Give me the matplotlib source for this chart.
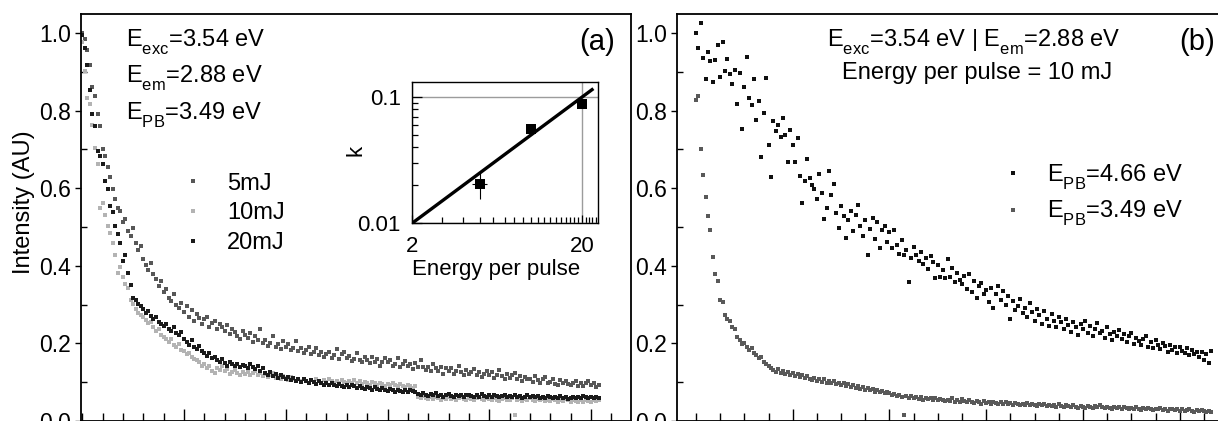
import matplotlib
matplotlib.use('Agg')
import matplotlib.pyplot as plt
import matplotlib._mathtext as _mt
import numpy as np
from matplotlib.ticker import FixedLocator, MultipleLocator, NullFormatter

plt.rcParams['font.family'] = ['Liberation Sans', 'DejaVu Sans']
plt.rcParams['mathtext.fontset'] = 'custom'
plt.rcParams['mathtext.rm'] = 'Liberation Sans'
plt.rcParams['mathtext.it'] = 'Liberation Sans:italic'
plt.rcParams['mathtext.default'] = 'regular'
# lower the subscripts a bit (Origin-style)
_mt.FontConstantsBase.subdrop = 0.62
_mt.FontConstantsBase.sub1 = 0.62

# ---------------- data ----------------
dt = 0.025  # time step of the transients (arb. units)

mj5 = [
    1.000, 0.985, 0.955, 0.918, 0.862, 0.838, 0.792, 0.760,
    0.702, 0.684, 0.655, 0.628, 0.598, 0.572, 0.548, 0.541,
    0.512, 0.521, 0.489, 0.478, 0.497, 0.458, 0.441, 0.452,
    0.418, 0.402, 0.388, 0.407, 0.378, 0.365, 0.349, 0.361,
    0.332, 0.341, 0.318, 0.309, 0.327, 0.298, 0.291, 0.305,
    0.281, 0.297, 0.268, 0.286, 0.259, 0.276, 0.265, 0.251,
    0.262, 0.268, 0.243, 0.252, 0.258, 0.236, 0.249, 0.241,
    0.232, 0.247, 0.224, 0.238, 0.229, 0.219, 0.212, 0.231,
    0.221, 0.214, 0.228, 0.203, 0.219, 0.208, 0.238, 0.201,
    0.209, 0.194, 0.202, 0.218, 0.191, 0.199, 0.186, 0.207,
    0.192, 0.198, 0.183, 0.189, 0.205, 0.181, 0.188, 0.176,
    0.184, 0.191, 0.172, 0.179, 0.188, 0.171, 0.177, 0.166,
    0.173, 0.179, 0.163, 0.169, 0.186, 0.161, 0.172, 0.178,
    0.162, 0.168, 0.154, 0.161, 0.176, 0.158, 0.151, 0.166,
    0.158, 0.149, 0.165, 0.152, 0.159, 0.143, 0.151, 0.162,
    0.151, 0.157, 0.142, 0.148, 0.163, 0.139, 0.147, 0.155,
    0.141, 0.148, 0.134, 0.149, 0.138, 0.156, 0.139, 0.131,
    0.138, 0.129, 0.146, 0.136, 0.128, 0.139, 0.122, 0.137,
    0.129, 0.136, 0.121, 0.128, 0.142, 0.127, 0.119, 0.131,
    0.121, 0.127, 0.135, 0.118, 0.126, 0.113, 0.121, 0.129,
    0.119, 0.126, 0.111, 0.118, 0.132, 0.117, 0.109, 0.121,
    0.112, 0.118, 0.124, 0.108, 0.116, 0.103, 0.114, 0.109,
    0.107, 0.101, 0.115, 0.106, 0.099, 0.109, 0.113, 0.098,
    0.101, 0.107, 0.096, 0.092, 0.105, 0.098, 0.104, 0.095,
    0.093, 0.099, 0.104, 0.089, 0.097, 0.091, 0.098, 0.102,
    0.092, 0.097, 0.088, 0.094,
]

mj10 = [
    0.978, 0.903, 0.832, 0.818, 0.762, 0.704, 0.662, 0.548,
    0.562, 0.531, 0.502, 0.484, 0.458, 0.428, 0.382, 0.398,
    0.371, 0.352, 0.342, 0.312, 0.301, 0.289, 0.278, 0.272,
    0.268, 0.261, 0.252, 0.256, 0.241, 0.232, 0.238, 0.222,
    0.216, 0.211, 0.203, 0.212, 0.196, 0.191, 0.199, 0.184,
    0.181, 0.172, 0.176, 0.165, 0.161, 0.156, 0.152, 0.143,
    0.147, 0.136, 0.141, 0.129, 0.124, 0.136, 0.131, 0.141,
    0.128, 0.133, 0.122, 0.127, 0.131, 0.124, 0.119, 0.126,
    0.121, 0.127, 0.118, 0.124, 0.129, 0.119, 0.123, 0.116,
    0.121, 0.114, 0.119, 0.124, 0.112, 0.117, 0.109, 0.115,
    0.112, 0.106, 0.113, 0.108, 0.103, 0.109, 0.102, 0.107,
    0.104, 0.099, 0.106, 0.101, 0.108, 0.103, 0.098, 0.105,
    0.101, 0.107, 0.102, 0.098, 0.104, 0.099, 0.106, 0.101,
    0.097, 0.103, 0.099, 0.105, 0.098, 0.102, 0.096, 0.101,
    0.098, 0.094, 0.101, 0.097, 0.093, 0.099, 0.095, 0.091,
    0.096, 0.092, 0.098, 0.094, 0.089, 0.095, 0.091, 0.087,
    0.093, 0.089, 0.085, 0.091, 0.062, 0.058, 0.064, 0.059,
    0.056, 0.061, 0.057, 0.063, 0.058, 0.055, 0.060, 0.057,
    0.061, 0.056, 0.059, 0.054, 0.058, 0.062, 0.057, 0.055,
    0.059, 0.056, 0.053, 0.058, 0.061, 0.056, 0.054, 0.059,
    0.057, 0.054, 0.059, 0.055, 0.052, 0.057, 0.060, 0.055,
    0.053, 0.058, 0.015, 0.054, 0.057, 0.052, 0.056, 0.053,
    0.058, 0.054, 0.051, 0.056, 0.053, 0.057, 0.052, 0.055,
    0.051, 0.056, 0.053, 0.049, 0.054, 0.052, 0.057, 0.053,
    0.050, 0.054, 0.051, 0.048, 0.053, 0.050, 0.055, 0.052,
    0.049, 0.053, 0.051, 0.054,
]

mj20 = [
    0.995, 0.962, 0.918, 0.853, 0.792, 0.761, 0.695, 0.684,
    0.662, 0.618, 0.597, 0.553, 0.538, 0.502, 0.482, 0.458,
    0.412, 0.428, 0.382, 0.351, 0.318, 0.312, 0.301, 0.296,
    0.288, 0.279, 0.283, 0.271, 0.262, 0.268, 0.255, 0.249,
    0.244, 0.251, 0.238, 0.232, 0.241, 0.226, 0.221, 0.229,
    0.212, 0.204, 0.197, 0.208, 0.191, 0.186, 0.193, 0.181,
    0.176, 0.168, 0.174, 0.162, 0.166, 0.158, 0.153, 0.161,
    0.149, 0.143, 0.152, 0.146, 0.141, 0.147, 0.139, 0.144,
    0.142, 0.137, 0.146, 0.139, 0.134, 0.141, 0.128, 0.136,
    0.124, 0.119, 0.127, 0.116, 0.121, 0.112, 0.118, 0.114,
    0.109, 0.113, 0.106, 0.111, 0.104, 0.108, 0.101, 0.107,
    0.103, 0.098, 0.105, 0.101, 0.096, 0.102, 0.099, 0.094,
    0.097, 0.092, 0.099, 0.094, 0.089, 0.096, 0.091, 0.088,
    0.092, 0.087, 0.094, 0.089, 0.085, 0.091, 0.086, 0.083,
    0.088, 0.084, 0.081, 0.087, 0.083, 0.079, 0.085, 0.081,
    0.078, 0.083, 0.079, 0.076, 0.081, 0.077, 0.074, 0.079,
    0.076, 0.081, 0.077, 0.074, 0.069, 0.066, 0.071, 0.067,
    0.064, 0.069, 0.066, 0.071, 0.065, 0.068, 0.063, 0.067,
    0.069, 0.065, 0.062, 0.068, 0.064, 0.067, 0.063, 0.066,
    0.068, 0.064, 0.061, 0.066, 0.063, 0.069, 0.065, 0.062,
    0.066, 0.063, 0.067, 0.064, 0.061, 0.065, 0.068, 0.063,
    0.064, 0.061, 0.066, 0.062, 0.065, 0.059, 0.063, 0.066,
    0.062, 0.065, 0.061, 0.064, 0.058, 0.063, 0.060, 0.065,
    0.061, 0.058, 0.063, 0.060, 0.064, 0.059, 0.062, 0.057,
    0.060, 0.063, 0.058, 0.062, 0.059, 0.064, 0.061, 0.058,
    0.062, 0.059, 0.063, 0.060,
]

pb466 = [
    1.000, 0.962, 1.025, 0.935, 0.882, 0.951, 0.928, 0.874,
    0.930, 0.968, 0.887, 0.978, 0.902, 0.934, 0.895, 0.869,
    0.905, 0.818, 0.898, 0.752, 0.862, 0.938, 0.832, 0.815,
    0.882, 0.776, 0.825, 0.681, 0.793, 0.885, 0.712, 0.628,
    0.774, 0.748, 0.762, 0.731, 0.782, 0.738, 0.668, 0.751,
    0.712, 0.667, 0.729, 0.632, 0.562, 0.618, 0.674, 0.626,
    0.609, 0.598, 0.571, 0.636, 0.587, 0.521, 0.548, 0.644,
    0.582, 0.612, 0.537, 0.498, 0.553, 0.528, 0.471, 0.519,
    0.542, 0.489, 0.532, 0.558, 0.503, 0.476, 0.518, 0.429,
    0.494, 0.523, 0.468, 0.512, 0.446, 0.491, 0.502, 0.462,
    0.488, 0.447, 0.492, 0.454, 0.431, 0.467, 0.428, 0.442,
    0.358, 0.421, 0.448, 0.427, 0.412, 0.436, 0.404, 0.419,
    0.392, 0.426, 0.411, 0.368, 0.402, 0.371, 0.389, 0.368,
    0.418, 0.372, 0.395, 0.358, 0.381, 0.364, 0.352, 0.374,
    0.341, 0.378, 0.332, 0.361, 0.318, 0.349, 0.356, 0.327,
    0.338, 0.306, 0.342, 0.291, 0.328, 0.347, 0.312, 0.334,
    0.298, 0.321, 0.262, 0.309, 0.286, 0.297, 0.314, 0.279,
    0.292, 0.268, 0.304, 0.281, 0.259, 0.289, 0.272, 0.251,
    0.284, 0.263, 0.245, 0.276, 0.258, 0.241, 0.267, 0.254,
    0.238, 0.262, 0.247, 0.229, 0.256, 0.243, 0.221, 0.251,
    0.236, 0.259, 0.228, 0.246, 0.219, 0.238, 0.252, 0.226,
    0.232, 0.214, 0.241, 0.223, 0.209, 0.229, 0.218, 0.234,
    0.211, 0.224, 0.203, 0.219, 0.227, 0.198, 0.215, 0.206,
    0.196, 0.212, 0.218, 0.191, 0.204, 0.188, 0.209, 0.197,
    0.186, 0.201, 0.193, 0.179, 0.196, 0.184, 0.191, 0.176,
    0.192, 0.181, 0.174, 0.188, 0.169, 0.183, 0.172, 0.178,
    0.166, 0.179, 0.158, 0.172, 0.149, 0.181,
]

pb349 = [
    0.828, 0.838, 0.702, 0.634, 0.578, 0.528, 0.492, 0.423,
    0.378, 0.362, 0.312, 0.306, 0.272, 0.262, 0.258, 0.241,
    0.238, 0.216, 0.208, 0.198, 0.201, 0.192, 0.184, 0.188,
    0.176, 0.171, 0.163, 0.166, 0.152, 0.148, 0.141, 0.136,
    0.131, 0.127, 0.134, 0.124, 0.129, 0.121, 0.126, 0.119,
    0.123, 0.116, 0.121, 0.113, 0.118, 0.112, 0.117, 0.109,
    0.106, 0.112, 0.104, 0.109, 0.101, 0.107, 0.099, 0.104,
    0.097, 0.102, 0.095, 0.099, 0.093, 0.098, 0.091, 0.095,
    0.088, 0.093, 0.086, 0.090, 0.083, 0.088, 0.081, 0.085,
    0.079, 0.083, 0.076, 0.081, 0.074, 0.078, 0.071, 0.076,
    0.072, 0.066, 0.070, 0.064, 0.068, 0.061, 0.015, 0.065,
    0.060, 0.064, 0.058, 0.062, 0.057, 0.061, 0.055, 0.059,
    0.056, 0.060, 0.054, 0.058, 0.053, 0.057, 0.055, 0.051,
    0.055, 0.052, 0.058, 0.050, 0.054, 0.049, 0.056, 0.052,
    0.048, 0.053, 0.050, 0.046, 0.052, 0.049, 0.045, 0.051,
    0.047, 0.050, 0.045, 0.049, 0.046, 0.043, 0.048, 0.045,
    0.049, 0.044, 0.047, 0.042, 0.046, 0.043, 0.041, 0.045,
    0.042, 0.046, 0.040, 0.044, 0.041, 0.038, 0.043, 0.040,
    0.044, 0.039, 0.042, 0.038, 0.041, 0.037, 0.043, 0.039,
    0.036, 0.041, 0.038, 0.035, 0.040, 0.037, 0.034, 0.039,
    0.037, 0.034, 0.039, 0.036, 0.033, 0.038, 0.035, 0.040,
    0.036, 0.033, 0.037, 0.034, 0.031, 0.036, 0.033, 0.035,
    0.032, 0.036, 0.033, 0.030, 0.034, 0.031, 0.035, 0.032,
    0.029, 0.033, 0.030, 0.034, 0.031, 0.028, 0.032, 0.030,
    0.033, 0.029, 0.031, 0.027, 0.030, 0.032, 0.028, 0.031,
    0.027, 0.030, 0.026, 0.029, 0.031, 0.027, 0.024, 0.028,
    0.025, 0.029, 0.026, 0.023, 0.027, 0.024,
]

# inset: rate constant k vs energy per pulse
energy = [5, 10, 20]
k_vals = [0.0206, 0.0562, 0.0887]
k_err_lo = [0.0049, 0.003, 0.0067]
k_err_hi = [0.0049, 0.003, 0.0063]
e_err = [0.5, 0.5, 0.5]
fit_energy = [2.0, 23.3]
fit_k = [0.010, 0.1165]

left_labels = ['5mJ', '10mJ', '20mJ']
right_labels = ['E$_{PB}$=4.66 eV', 'E$_{PB}$=3.49 eV']
yticks = [0.0, 0.2, 0.4, 0.6, 0.8, 1.0]
ytick_labels = ['0.0', '0.2', '0.4', '0.6', '0.8', '1.0']

# ---------------- figure ----------------
FW, FH = 1218, 421
fig = plt.figure(figsize=(FW / 100, FH / 100), dpi=100)


def box(l, t, w, h):
    return [l / FW, 1 - (t + h) / FH, w / FW, h / FH]


axA = fig.add_axes(box(80.5, 14, 550, 407))
axB = fig.add_axes(box(677, 14, 548.6, 407))
axI = fig.add_axes(box(412, 82, 186, 141.3))

FS = 17
ms = 2.6
h5, = axA.plot(np.arange(len(mj5)) * dt, mj5, ls='none', marker='s', ms=ms, mew=0, color='#575757')
h10, = axA.plot(np.arange(len(mj10)) * dt, mj10, ls='none', marker='s', ms=ms, mew=0, color='#b3b3b3')
h20, = axA.plot(np.arange(len(mj20)) * dt, mj20, ls='none', marker='s', ms=ms, mew=0, color='#1a1a1a')

hb1, = axB.plot(np.arange(len(pb466)) * dt, pb466, ls='none', marker='s', ms=ms, mew=0, color='#101010')
hb2, = axB.plot(np.arange(len(pb349)) * dt, pb349, ls='none', marker='s', ms=ms, mew=0, color='#595959')

axA.set_xlim(-0.0172, 5.388)
axB.set_xlim(-0.196, 5.474)

for ax in (axA, axB):
    ax.set_ylim(0.0, 1.049)
    ax.yaxis.set_major_locator(FixedLocator(yticks))
    ax.set_yticklabels(ytick_labels)
    ax.yaxis.set_minor_locator(MultipleLocator(0.1))
    ax.xaxis.set_major_locator(FixedLocator([1, 2, 3, 4, 5]))
    ax.xaxis.set_minor_locator(MultipleLocator(0.2) if ax is axA else MultipleLocator(0.25))
    ax.tick_params(axis='x', which='major', direction='in', length=9, width=1.0,
                   labelbottom=False, top=False)
    ax.tick_params(axis='x', which='minor', direction='in', length=6, width=1.0, top=False)
    ax.tick_params(axis='y', which='major', direction='out', length=4, width=1.0,
                   labelsize=16.5, pad=3, right=False)
    ax.tick_params(axis='y', which='minor', direction='in', length=4, width=1.0, right=False)
    for s in ax.spines.values():
        s.set_linewidth(1.3)

axA.set_ylabel('Intensity (AU)', fontsize=FS)
axA.yaxis.set_label_coords(-0.0827, 0.537)

# texts panel (a)
axA.text(0.0827, 0.919, 'E$_{exc}$=3.54 eV', transform=axA.transAxes, fontsize=FS, va='baseline')
axA.text(0.0827, 0.8305, 'E$_{em}$=2.88 eV', transform=axA.transAxes, fontsize=FS, va='baseline')
axA.text(0.0827, 0.7396, 'E$_{PB}$=3.49 eV', transform=axA.transAxes, fontsize=FS, va='baseline')
axA.text(0.9718, 0.9115, '(a)', transform=axA.transAxes, fontsize=21, ha='right', va='baseline')

axA.legend([h5, h10, h20], left_labels, loc='upper left', bbox_to_anchor=(0.1831, 0.6103),
           frameon=False, fontsize=FS, handlelength=1.0, handletextpad=0.94,
           labelspacing=0.33, borderpad=0, borderaxespad=0, numpoints=1, markerscale=1.0)

# texts panel (b)
axB.text(0.5405, 0.919, 'E$_{exc}$=3.54 eV | E$_{em}$=2.88 eV', transform=axB.transAxes,
         fontsize=FS, ha='center', va='baseline')
axB.text(0.547, 0.8396, 'Energy per pulse = 10 mJ', transform=axB.transAxes,
         fontsize=FS, ha='center', va='baseline')
axB.text(0.9807, 0.9115, '(b)', transform=axB.transAxes, fontsize=21, ha='right', va='baseline')
axB.legend([hb1, hb2], right_labels, loc='upper left', bbox_to_anchor=(0.591, 0.6346),
           frameon=False, fontsize=FS, handlelength=1.0, handletextpad=0.94,
           labelspacing=0.31, borderpad=0, borderaxespad=0, numpoints=1, markerscale=1.0)

# ---------------- inset ----------------
FI = 16
axI.set_xscale('log')
axI.set_yscale('log')
axI.set_axisbelow(True)
axI.grid(True, which='major', color='#9c9c9c', lw=1.0)
axI.plot(fit_energy, fit_k, color='black', lw=2.4, solid_capstyle='butt', zorder=4)
axI.errorbar(energy, k_vals, yerr=[k_err_lo, k_err_hi], xerr=e_err, fmt='s', color='black',
             ms=7, mew=0, ecolor='black', elinewidth=0.8, capsize=2.5, capthick=0.8, zorder=3)
axI.set_xlim(2, 24.8)
axI.set_ylim(0.01, 0.1315)
axI.xaxis.set_major_locator(FixedLocator([2, 20]))
axI.set_xticklabels(['2', '20'])
axI.xaxis.set_minor_locator(FixedLocator([3, 4, 5, 6, 7, 8, 9, 10, 11, 12, 13, 14, 15, 16,
                                          17, 18, 19, 21, 22, 23, 24]))
axI.xaxis.set_minor_formatter(NullFormatter())
axI.yaxis.set_major_locator(FixedLocator([0.01, 0.1]))
axI.set_yticklabels(['0.01', '0.1'])
axI.yaxis.set_minor_locator(FixedLocator([0.02, 0.03, 0.04, 0.05, 0.06, 0.07, 0.08, 0.09]))
axI.yaxis.set_minor_formatter(NullFormatter())
axI.tick_params(which='both', direction='in', top=False, right=False, labelsize=FI, width=0.9)
axI.tick_params(axis='x', which='major', length=6, pad=9)
axI.tick_params(axis='y', which='major', length=7, pad=8)
axI.tick_params(which='minor', length=4)
for s in axI.spines.values():
    s.set_linewidth(1.0)
axI.set_xlabel('Energy per pulse', fontsize=FI)
axI.xaxis.set_label_coords(0.454, -0.25)
axI.set_ylabel('k', fontsize=FI)
axI.yaxis.set_label_coords(-0.247, 0.517)

fig.savefig('out.png', dpi=100)
